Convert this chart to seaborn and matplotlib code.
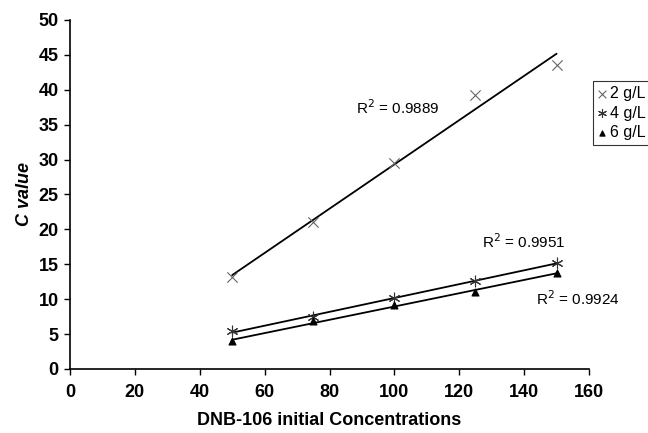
import numpy as np
import pandas as pd
import seaborn as sns
import matplotlib.pyplot as plt

conc = [50, 75, 100, 125, 150]
c_2gl = [13.1, 21.0, 29.5, 39.3, 43.6]
c_4gl = [5.4, 7.4, 10.2, 12.6, 15.2]
c_6gl = [4.0, 6.8, 9.1, 11.0, 13.8]
series_names = ["2 g/L", "4 g/L", "6 g/L"]
r2_labels = ["0.9889", "0.9951", "0.9924"]
x_ticks = [0, 20, 40, 60, 80, 100, 120, 140, 160]
y_ticks = [0, 5, 10, 15, 20, 25, 30, 35, 40, 45, 50]

df = pd.DataFrame({
    "conc": conc * 3,
    "C": c_2gl + c_4gl + c_6gl,
    "dose": [n for n in series_names for _ in conc],
})

sns.set_style("ticks")
plt.rcParams["font.family"] = ["Liberation Sans", "DejaVu Sans"]
plt.rcParams["text.color"] = "black"
plt.rcParams["axes.labelcolor"] = "black"
plt.rcParams["xtick.color"] = "black"
plt.rcParams["ytick.color"] = "black"

fig = plt.figure(figsize=(6.48, 4.33), dpi=100)
ax = fig.add_axes([0.108, 0.148, 0.801, 0.806])

markers = {"2 g/L": "x", "4 g/L": (6, 2, 0), "6 g/L": "^"}
mcolors = {"2 g/L": "#666666", "4 g/L": "#333333", "6 g/L": "#000000"}
msizes = {"2 g/L": 55, "4 g/L": 60, "6 g/L": 25}

handles = []
for name in series_names:
    sub = df[df["dose"] == name]
    sns.regplot(data=sub, x="conc", y="C", ax=ax, ci=None, scatter=False,
                line_kws=dict(color="black", lw=1.3))
    h = ax.scatter(sub["conc"], sub["C"], marker=markers[name],
                   s=msizes[name], color=mcolors[name],
                   linewidths=0.8, zorder=5, label=name)
    handles.append(h)

ax.set_xlim(0, 160)
ax.set_ylim(0, 50)
ax.set_xticks(x_ticks, labels=[str(v) for v in x_ticks], fontsize=13, fontweight="bold")
ax.set_yticks(y_ticks, labels=[str(v) for v in y_ticks], fontsize=13, fontweight="bold")
ax.tick_params(axis="both", length=4, width=1, color="black", direction="out", pad=4)
ax.tick_params(axis="x", pad=7)
sns.despine(ax=ax)
for s in ["left", "bottom"]:
    ax.spines[s].set_color("black")
    ax.spines[s].set_linewidth(1.2)

ax.set_xlabel("DNB-106 initial Concentrations", fontsize=13, fontweight="bold", labelpad=8)
ax.set_ylabel("C value", fontsize=13, fontweight="bold", fontstyle="italic", labelpad=4)

ax.text(101, 37.5, "R$^2$ = " + r2_labels[0], fontsize=11, ha="center", va="center")
ax.text(140, 18.2, "R$^2$ = " + r2_labels[1], fontsize=11, ha="center", va="center")
ax.text(156.6, 10.0, "R$^2$ = " + r2_labels[2], fontsize=11, ha="center", va="center",
        clip_on=False)

leg = fig.legend(handles=handles, labels=series_names, loc="upper left",
                 bbox_to_anchor=(0.915, 0.813), borderaxespad=0, frameon=True,
                 fontsize=11.5, handlelength=0.5, handletextpad=0.25, borderpad=0.3,
                 labelspacing=0.3, fancybox=False, markerscale=0.75)
leg.get_frame().set_edgecolor("black")
leg.get_frame().set_linewidth(0.8)

fig.savefig("out.png", dpi=100)
